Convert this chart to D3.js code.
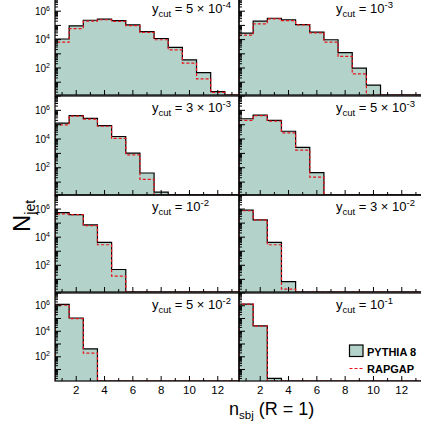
<!DOCTYPE html>
<html><head><meta charset="utf-8">
<script src="https://cdn.jsdelivr.net/npm/d3@7"></script>
<style>html,body{margin:0;padding:0;background:#fff;overflow:hidden}svg{display:block;font-family:"Liberation Sans",Arial,sans-serif}</style>
</head><body>
<script>
// ---- data ----
const nsbj = [1,2,3,4,5,6,7,8,9,10,11,12,13];
const ycutMant = ["5 \u00d7 10","10","3 \u00d7 10","5 \u00d7 10","10","3 \u00d7 10","5 \u00d7 10","10"];
const ycutExp  = ["-4","-3","-3","-3","-2","-2","-2","-1"];
const pythia_5e4 = [1.1e4, 9.3e4, 2.3e5, 2.8e5, 2.2e5, 1.1e5, 3.7e4, 1.2e4, 2.8e3, 380, 48, 2.2, 0];
const rapgap_5e4 = [6.6e3, 6.0e4, 2.0e5, 2.5e5, 1.9e5, 9.8e4, 3.2e4, 9.8e3, 1.9e3, 220, 17, 1.9, 0];
const pythia_1e3 = [2.9e4, 2.0e5, 3.2e5, 2.5e5, 1.15e5, 3.4e4, 9.8e3, 1.2e3, 98, 6.3, 0, 0, 0];
const rapgap_1e3 = [2.1e4, 1.3e5, 2.9e5, 2.2e5, 1.1e5, 3.0e4, 6.6e3, 650, 39, 0, 0, 0, 0];
const pythia_3e3 = [1.3e5, 4.3e5, 2.75e5, 8.7e4, 1.5e4, 1.05e3, 43, 2.0, 0, 0, 0, 0, 0];
const rapgap_3e3 = [9.8e4, 4.0e5, 2.45e5, 7.8e4, 1.1e4, 790, 15.5, 0, 0, 0, 0, 0, 0];
const pythia_5e3 = [2.6e5, 4.7e5, 2.0e5, 3.5e4, 2.6e3, 46, 0, 0, 0, 0, 0, 0, 0];
const rapgap_5e3 = [2.0e5, 4.3e5, 1.8e5, 2.7e4, 1.7e3, 22, 0, 0, 0, 0, 0, 0, 0];
const pythia_1e2 = [5.6e5, 4.0e5, 7.4e4, 4.3e3, 50, 0, 0, 0, 0, 0, 0, 0, 0];
const rapgap_1e2 = [4.5e5, 4.0e5, 6.6e4, 2.9e3, 17, 0, 0, 0, 0, 0, 0, 0, 0];
const pythia_3e2 = [8.5e5, 1.7e5, 4.3e3, 6.9, 0, 0, 0, 0, 0, 0, 0, 0, 0];
const rapgap_3e2 = [7.6e5, 1.7e5, 2.9e3, 2.0, 0, 0, 0, 0, 0, 0, 0, 0, 0];
const pythia_5e2 = [1.26e6, 1.1e5, 410, 0, 0, 0, 0, 0, 0, 0, 0, 0, 0];
const rapgap_5e2 = [1.1e6, 9.8e4, 195, 0, 0, 0, 0, 0, 0, 0, 0, 0, 0];
const pythia_1e1 = [1.35e6, 2.6e4, 2.0, 0, 0, 0, 0, 0, 0, 0, 0, 0, 0];
const rapgap_1e1 = [1.35e6, 2.5e4, 0, 0, 0, 0, 0, 0, 0, 0, 0, 0, 0];
const xTickLabels = [2,4,6,8,10,12];
const yTickLabelExps = [2,4,6];
const legendLabels = ["PYTHIA 8","RAPGAP"];

const pythiaSets = [pythia_5e4,pythia_1e3,pythia_3e3,pythia_5e3,pythia_1e2,pythia_3e2,pythia_5e2,pythia_1e1];
const rapgapSets = [rapgap_5e4,rapgap_1e3,rapgap_3e3,rapgap_5e3,rapgap_1e2,rapgap_3e2,rapgap_5e2,rapgap_1e1];

// ---- layout ----
const W = 421, H = 423;
const colLeft = [55, 239], colW = 184;
const rowTop = [-3, 96, 195, 293], rowBot = [95, 195, 292, 381];
const yMin = Math.pow(10, 0.1), yMax = 1e7;
const fillCol = "#b3d2c9";

const svg = d3.select("body").append("svg").attr("width", W).attr("height", H);
const defs = svg.append("defs");

for (let p = 0; p < 8; p++) {
  const r = Math.floor(p / 2), c = p % 2;
  const x = d3.scaleLinear().domain([0.5, 13.5]).range([colLeft[c], colLeft[c] + colW]);
  const y = d3.scaleLog().domain([yMin, yMax]).range([rowBot[r], rowTop[r]]);
  const clipId = "clip" + p;
  defs.append("clipPath").attr("id", clipId).append("rect")
    .attr("x", colLeft[c]).attr("y", rowTop[r]).attr("width", colW).attr("height", rowBot[r] - rowTop[r]);
  const g = svg.append("g");
  const cg = g.append("g").attr("clip-path", `url(#${clipId})`);

  const pts = (vals) => {
    const a = [];
    vals.forEach((v, i) => {
      const vv = Math.max(v, yMin);
      a.push([nsbj[i] - 0.5, vv]); a.push([nsbj[i] + 0.5, vv]);
    });
    return a;
  };
  const py = pts(pythiaSets[p]), rg = pts(rapgapSets[p]);
  const area = d3.area().x(d => x(d[0])).y0(y(yMin)).y1(d => y(d[1]));
  const line = d3.line().x(d => x(d[0])).y(d => y(d[1]));
  const withEnds = a => [[a[0][0], yMin], ...a, [a[a.length-1][0], yMin]];
  cg.append("path").attr("d", area(py)).attr("fill", fillCol);
  cg.append("path").attr("d", line(withEnds(py))).attr("fill", "none").attr("stroke", "#000").attr("stroke-width", 1.2);

  // frame
  g.append("rect").attr("x", colLeft[c]).attr("y", rowTop[r]).attr("width", colW).attr("height", rowBot[r] - rowTop[r])
    .attr("fill", "none").attr("stroke", "#000").attr("stroke-width", 1.2);

  // y ticks
  const x0 = colLeft[c];
  for (let e = 0; e <= 7; e++) {
    for (let m = 1; m <= 9; m++) {
      const v = m * Math.pow(10, e);
      if (v < yMin || v > yMax) continue;
      const len = m === 1 ? 6 : 3;
      g.append("line").attr("x1", x0).attr("x2", x0 + len).attr("y1", y(v)).attr("y2", y(v))
        .attr("stroke", "#000").attr("stroke-width", 1);
    }
  }
  // x ticks
  for (let n = 1; n <= 13; n++) {
    const len = n % 2 === 0 ? 5 : 3;
    g.append("line").attr("x1", x(n)).attr("x2", x(n)).attr("y1", rowBot[r]).attr("y2", rowBot[r] - len)
      .attr("stroke", "#000").attr("stroke-width", 1);
  }
  // red rapgap on top
  cg.append("path").attr("d", line(withEnds(rg))).attr("fill", "none").attr("stroke", "#e8141c")
    .attr("stroke-width", 1.2).attr("stroke-dasharray", "3,2");

  // y tick labels (left column only)
  if (c === 0) {
    yTickLabelExps.forEach(e => {
      const t = g.append("text").attr("x", x0 - 5).attr("y", y(Math.pow(10, e)) + 3.5)
        .attr("text-anchor", "end").attr("font-size", 10).attr("fill", "#000");
      t.append("tspan").text("10");
      t.append("tspan").attr("font-size", 7).attr("dy", -4).text(e);
    });
  }
  // x tick labels (bottom row only)
  if (r === 3) {
    xTickLabels.forEach(v => {
      g.append("text").attr("x", x(v)).attr("y", 394).attr("text-anchor", "middle")
        .attr("font-size", 11.5).attr("fill", "#000").text(v);
    });
  }
  // ycut label
  const t = g.append("text").attr("x", colLeft[c] + 97).attr("y", rowTop[r] + 16)
    .attr("font-size", 13).attr("fill", "#000");
  t.append("tspan").text("y");
  t.append("tspan").attr("font-size", 9.5).attr("dy", 4).text("cut");
  t.append("tspan").attr("dy", -4).text(" = " + ycutMant[p]);
  t.append("tspan").attr("font-size", 9.5).attr("dy", -5).text(ycutExp[p]);
}

// legend
svg.append("rect").attr("x", 349.5).attr("y", 345).attr("width", 13.5).attr("height", 11.5)
  .attr("fill", fillCol).attr("stroke", "#000").attr("stroke-width", 1.2);
svg.append("text").attr("x", 367).attr("y", 355.5).attr("font-size", 11).attr("font-weight", "bold").text(legendLabels[0]);
svg.append("line").attr("x1", 349.5).attr("x2", 363).attr("y1", 368.5).attr("y2", 368.5)
  .attr("stroke", "#e8141c").attr("stroke-width", 1.2).attr("stroke-dasharray", "3,2");
svg.append("text").attr("x", 367).attr("y", 372.5).attr("font-size", 11).attr("font-weight", "bold").text(legendLabels[1]);

// axis titles
const xt = svg.append("text").attr("x", 229).attr("y", 415).attr("font-size", 18).attr("fill", "#000");
xt.append("tspan").text("n");
xt.append("tspan").attr("font-size", 11.5).attr("dy", 4).text("sbj");
xt.append("tspan").attr("dy", -4).text(" (R = 1)");

const yt = svg.append("text").attr("transform", "translate(30,216) rotate(-90)").attr("text-anchor", "middle")
  .attr("font-size", 24).attr("fill", "#000");
yt.append("tspan").text("N");
yt.append("tspan").attr("font-size", 14).attr("dy", 5).text("jet");
</script>
</body></html>
